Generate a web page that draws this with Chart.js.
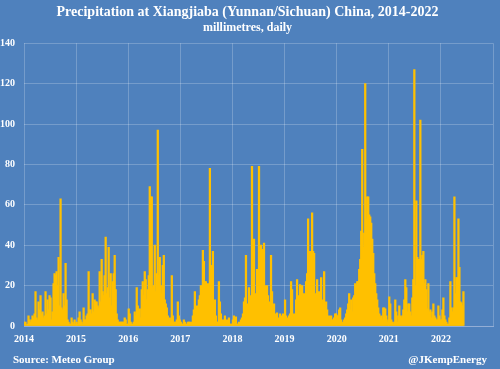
<!DOCTYPE html>
<html><head><meta charset="utf-8">
<script src="https://cdn.jsdelivr.net/npm/chart.js@4"></script>
<style>
html,body{margin:0;padding:0;background:#4F81BD;}
#wrap{position:relative;width:500px;height:369px;overflow:hidden;}
canvas{position:absolute;left:0;top:0;}
.note{position:absolute;top:352px;font:bold 11px "Liberation Serif",serif;color:#fff;line-height:14px;white-space:nowrap;}
</style></head><body>
<div id="wrap"><canvas id="c" width="500" height="369"></canvas>
<div class="note" style="left:13px">Source: Meteo Group</div>
<div class="note" style="right:13px">@JKempEnergy</div></div>
<script>
// Years shown on the x axis (tick labels)
const years = [2014, 2015, 2016, 2017, 2018, 2019, 2020, 2021, 2022];
// y-axis tick values
const yTicks = [0, 20, 40, 60, 80, 100, 120, 140];
// Daily precipitation (mm), read as the highest day in each ~weekly slice of the picture
const p2014 = [2,2,0.5,1,5,3,2,3,5,4,6,17,4,3,12,8,15,6,7,4,5,17,6,13,8,15,14,3,7,21,26,25,27,20,34,10,63,9,8,16,10,31,13,3,2,1,1,4,2,1,3,1];
const p2015 = [2,1,4,7,3,2,1,9,3,3,5,6,27,8,8,6,16,7,13,12,12,10,9,27,12,33,17,15,25,44,16,19,39,14,26,10,22,26,35,18,6,3,2,2,2,2,2,2,4,3,1,1];
const p2016 = [8.5,6,2,1,1,2,7,5,19,10,8,8.5,4,18,22,15,27,23,13,18,25,69,64,64,19,20,40,17,26,97,25,34,20,16,30,35,13,11,9,5,3,4,2,25,5,2,2,2,3,12,5,3];
const p2017 = [2,1,1,3,2,1,1,2,2,2,1,2,5,8,17,7,10,9,13,15,20,17,37.5,32,22,22,13,21,8,78,30,11,37,9,13,5,2,2,22,12,6,3,2,3,5,2,3,2,4,1,1,1];
const p2018 = [3,5,3,4.6,1,1,2,1,3,4,6,12,14,35,10,11,19,10,15,79,13,43,16,12,28,24,79,21,40,38,20,41,20,15,20,15,10,12,35,17,8,11,4,6,6.5,3,4,6,5,4,6,3];
const p2019 = [13,5,4,2,5,6,22,18,6,5,6,13,23,11,15,20.5,18,20,9,16,15,22,26,53,29,37,37,56,37,36,16,13,23,15,17,12,24,10,13,27,10,12,8,3,5,2,5,3,3,4,6,6];
const p2020 = [5,5,8,9,3,1,2,3,4,6,8,11,16,8,13,7,14,15,21,20,22,22,28,33,47,87.5,39,46,120,53,64,64,55,54,51,43,36,26,21,16,13,9,6,4,5,3,9,9,8.5,5,2,3];
const p2021 = [14.5,11,3,2,1,2,13,7,2,5,10,5,4,5,8,13,23,19,7,11,11,7,5,14,23,127,20,62,34,33,33,102,33,35,37,21,23,18,8.5,21,7,8,4,7,11,5,4,3,3,10,5,3];
const p2022 = [3,8,14,5,3,2,1,1,4,22,9,7,9,64,16,24,24,53,29,12,11.5,10,17];

const seriesByYear = [p2014, p2015, p2016, p2017, p2018, p2019, p2020, p2021, p2022];
const points = [];
seriesByYear.forEach((arr, k) => {
  arr.forEach((v, i) => points.push({x: years[k] + (i + 0.5) / 52, y: v}));
});

const gridColor = 'rgba(255,255,255,0.22)';
const tickFont = {family: 'Liberation Serif', size: 10, weight: 'bold'};

new Chart(document.getElementById('c'), {
  type: 'bar',
  data: {datasets: [{data: points, backgroundColor: '#FFC000', borderWidth: 0, barThickness: 1.6}]},
  options: {
    responsive: false, animation: false, devicePixelRatio: 1,
    layout: {padding: {left: 0, right: 5, top: 0, bottom: 23}},
    plugins: {
      legend: {display: false}, tooltip: {enabled: false},
      title: {display: true, text: 'Precipitation at Xiangjiaba (Yunnan/Sichuan) China, 2014-2022', color: '#fff',
        font: {family: 'Liberation Serif', size: 14, weight: 'bold'}, padding: {top: 4, bottom: 0}},
      subtitle: {display: true, text: 'millimetres, daily', color: '#fff',
        font: {family: 'Liberation Serif', size: 12, weight: 'bold'}, padding: {top: 0, bottom: 8}}
    },
    scales: {
      x: {type: 'linear', min: 2014, max: 2023, offset: false,
        afterBuildTicks: s => { s.ticks = years.concat([2023]).map(v => ({value: v})); },
        ticks: {color: '#fff', font: tickFont, padding: 7, maxRotation: 0, autoSkip: false,
          callback: v => (years.includes(v) ? String(v) : '')},
        grid: {color: gridColor, drawTicks: false, offset: false},
        border: {color: '#93AED6', width: 1},
        afterFit: s => { s.height = 20; }
      },
      y: {min: 0, max: 140,
        afterBuildTicks: s => { s.ticks = yTicks.map(v => ({value: v})); },
        ticks: {color: '#fff', font: tickFont, padding: 9, callback: v => String(v)},
        grid: {color: gridColor, drawTicks: false},
        border: {display: false},
        afterFit: s => { s.width = 24; }
      }
    }
  }
});
</script>
</body></html>
